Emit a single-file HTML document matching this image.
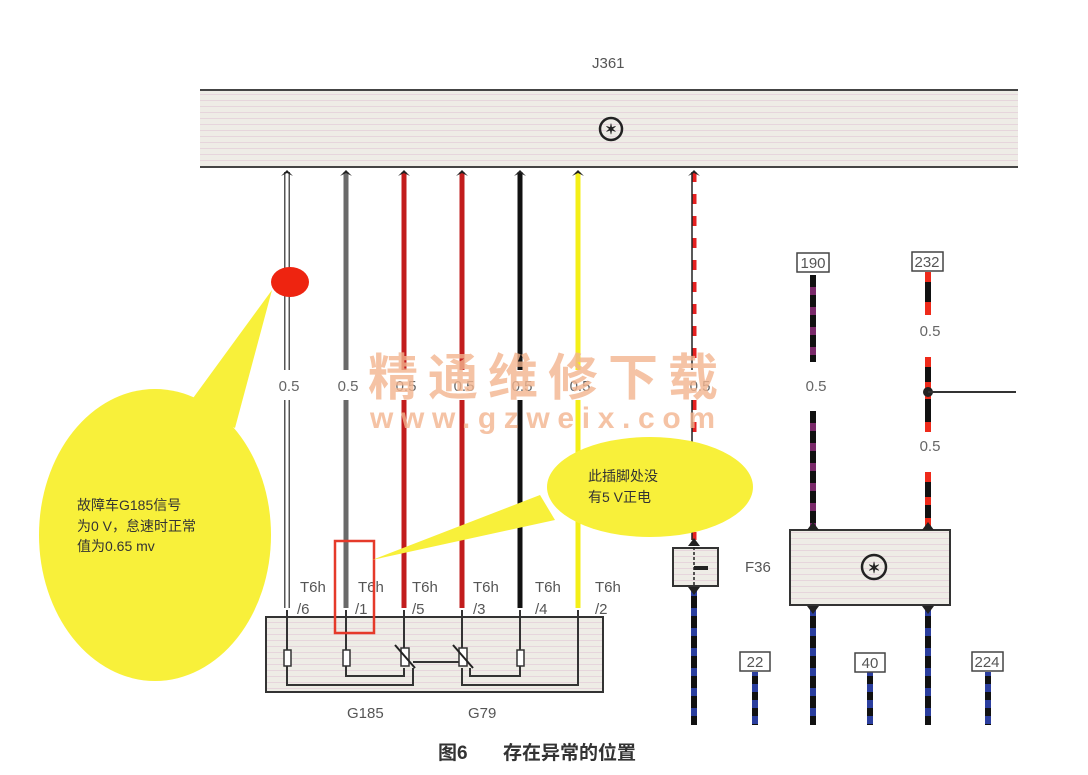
<!DOCTYPE html>
<html><head><meta charset="utf-8"><style>
html,body{margin:0;padding:0;background:#fff;}
svg{display:block;}
text{font-family:"Liberation Sans","Noto Sans CJK SC",sans-serif;}
</style></head><body>
<svg width="1088" height="775" viewBox="0 0 1088 775" xmlns="http://www.w3.org/2000/svg">
<defs>
<pattern id="st" width="8" height="6" patternUnits="userSpaceOnUse"><rect width="8" height="6" fill="#eeece6"/><rect y="4" width="8" height="1" fill="#e6d5dc"/></pattern>
</defs>
<!-- J361 -->
<text x="592" y="68" font-size="15" fill="#555">J361</text>
<rect x="200" y="90" width="818" height="77" fill="url(#st)"/>
<line x1="200" y1="90" x2="1018" y2="90" stroke="#444" stroke-width="2"/>
<line x1="200" y1="167" x2="1018" y2="167" stroke="#444" stroke-width="2"/>
<circle cx="611" cy="129" r="11" fill="none" stroke="#222" stroke-width="2.5"/>
<text x="611" y="134" font-size="14" text-anchor="middle" font-weight="bold" fill="#222">✶</text>

<!-- left wires -->
<g stroke-width="5">
<line x1="287" y1="172" x2="287" y2="370" stroke="#555" stroke-width="6"/><line x1="287" y1="172" x2="287" y2="370" stroke="#fff" stroke-width="3"/>
<line x1="287" y1="400" x2="287" y2="608" stroke="#555" stroke-width="6"/><line x1="287" y1="400" x2="287" y2="608" stroke="#fff" stroke-width="3"/>
<line x1="346" y1="172" x2="346" y2="370" stroke="#6a6a6a"/><line x1="346" y1="400" x2="346" y2="608" stroke="#6a6a6a"/>
<line x1="404" y1="172" x2="404" y2="370" stroke="#c21d1d"/><line x1="404" y1="400" x2="404" y2="608" stroke="#c21d1d"/>
<line x1="462" y1="172" x2="462" y2="370" stroke="#c21d1d"/><line x1="462" y1="400" x2="462" y2="608" stroke="#c21d1d"/>
<line x1="520" y1="172" x2="520" y2="370" stroke="#111"/><line x1="520" y1="400" x2="520" y2="608" stroke="#111"/>
<line x1="578" y1="172" x2="578" y2="370" stroke="#f4ef18"/><line x1="578" y1="400" x2="578" y2="608" stroke="#f4ef18"/>
<line x1="694" y1="172" x2="694" y2="370" stroke="#e52020" stroke-dasharray="10 12"/><line x1="694" y1="400" x2="694" y2="540" stroke="#e52020" stroke-dasharray="10 12"/>
</g>
<line x1="692" y1="172" x2="692" y2="370" stroke="#222" stroke-width="1.5"/><line x1="692" y1="400" x2="692" y2="540" stroke="#222" stroke-width="1.5"/>
<g fill="#222">
<path d="M281 176 L287 170 L293 176 L287 173Z"/><path d="M340 176 L346 170 L352 176 L346 173Z"/><path d="M398 176 L404 170 L410 176 L404 173Z"/><path d="M456 176 L462 170 L468 176 L462 173Z"/><path d="M514 176 L520 170 L526 176 L520 173Z"/><path d="M572 176 L578 170 L584 176 L578 173Z"/><path d="M688 176 L694 170 L700 176 L694 173Z"/>
</g>
<g font-size="15" fill="#666" text-anchor="middle">
<text x="289" y="391">0.5</text><text x="348" y="391">0.5</text><text x="406" y="391">0.5</text><text x="464" y="391">0.5</text><text x="522" y="391">0.5</text><text x="580" y="391">0.5</text><text x="700" y="391">0.5</text>
</g>

<!-- bottom box -->
<rect x="266" y="617" width="337" height="75" fill="url(#st)" stroke="#333" stroke-width="2"/>
<g fill="none" stroke="#333" stroke-width="2">
<path d="M287 610 V685 H413 V668"/>
<path d="M346 610 V676 H404 V668"/>
<path d="M404 610 V648"/>
<path d="M413 662 H462"/>
<path d="M462 610 V648"/>
<path d="M462 668 V685 H578 V610"/>
<path d="M470 668 V676 H520 V610"/>
</g>
<g fill="#fff" stroke="#333" stroke-width="1.5">
<rect x="284" y="650" width="7" height="16"/><rect x="343" y="650" width="7" height="16"/><rect x="401" y="648" width="8" height="18"/><rect x="459" y="648" width="8" height="18"/><rect x="517" y="650" width="7" height="16"/>
</g>
<g stroke="#222" stroke-width="2"><line x1="395" y1="645" x2="415" y2="668"/><line x1="453" y1="645" x2="473" y2="668"/></g>
<g font-size="15" fill="#555">
<text x="300" y="592">T6h</text><text x="358" y="592">T6h</text><text x="412" y="592">T6h</text><text x="473" y="592">T6h</text><text x="535" y="592">T6h</text><text x="595" y="592">T6h</text>
<text x="297" y="614">/6</text><text x="355" y="614">/1</text><text x="412" y="614">/5</text><text x="473" y="614">/3</text><text x="535" y="614">/4</text><text x="595" y="614">/2</text>
<text x="347" y="718">G185</text><text x="468" y="718">G79</text>
</g>
<rect x="335" y="541" width="39" height="92" fill="none" stroke="#e53a2a" stroke-width="2.5"/>

<!-- yellow callouts -->
<path d="M272 290 L188 405 L235 428 Z" fill="#f8f03a"/>
<ellipse cx="155" cy="535" rx="116" ry="146" fill="#f8f03a"/>
<ellipse cx="290" cy="282" rx="19" ry="15" fill="#ee2410"/>
<g font-size="14" fill="#333"><text x="77" y="510">故障车G185信号</text><text x="77" y="531">为0 V，怠速时正常</text><text x="77" y="551">值为0.65 mv</text></g>
<path d="M372 560 L540 495 L555 520 Z" fill="#f8f03a"/>
<ellipse cx="650" cy="487" rx="103" ry="50" fill="#f8f03a"/>
<g font-size="14" fill="#333"><text x="588" y="481">此插脚处没</text><text x="588" y="502">有5 V正电</text></g>

<!-- watermark -->
<text x="368" y="395" font-size="50" fill="#f2b48e" fill-opacity="0.8" font-family="Noto Serif CJK SC,serif" textLength="350" font-weight="bold">精通维修下载</text>
<text x="370" y="428" font-size="30" font-weight="bold" fill="#f2b48e" fill-opacity="0.8" textLength="345">www.gzweix.com</text>

<!-- F36 -->
<rect x="673" y="548" width="45" height="38" fill="url(#st)" stroke="#333" stroke-width="2"/>
<path d="M694 542 V586" stroke="#222" stroke-width="1.5" stroke-dasharray="3 2"/>
<path d="M694 568 L708 568" stroke="#222" stroke-width="4"/>
<text x="745" y="572" font-size="15" fill="#555">F36</text>

<!-- right side -->
<g stroke-width="6">
<line x1="813" y1="275" x2="813" y2="362" stroke="#7a2a6a"/><line x1="813" y1="275" x2="813" y2="362" stroke="#111" stroke-dasharray="12 8"/>
<line x1="813" y1="411" x2="813" y2="527" stroke="#7a2a6a"/><line x1="813" y1="411" x2="813" y2="527" stroke="#111" stroke-dasharray="12 8"/>
<line x1="928" y1="272" x2="928" y2="315" stroke="#ee2a1a"/><line x1="928" y1="282" x2="928" y2="302" stroke="#111"/>
<line x1="928" y1="357" x2="928" y2="432" stroke="#ee2a1a"/><line x1="928" y1="367" x2="928" y2="382" stroke="#111"/><line x1="928" y1="399" x2="928" y2="422" stroke="#111"/>
<line x1="928" y1="472" x2="928" y2="527" stroke="#ee2a1a"/><line x1="928" y1="482" x2="928" y2="497" stroke="#111"/><line x1="928" y1="505" x2="928" y2="518" stroke="#111"/>
</g>
<circle cx="928" cy="392" r="5" fill="#222"/>
<line x1="928" y1="392" x2="1016" y2="392" stroke="#333" stroke-width="2"/>
<g font-size="15" fill="#666" text-anchor="middle"><text x="816" y="391">0.5</text><text x="930" y="336">0.5</text><text x="930" y="451">0.5</text></g>
<rect x="797" y="253" width="32" height="19" fill="#fff" stroke="#444" stroke-width="1.5"/><text x="813" y="268" font-size="15" fill="#555" text-anchor="middle">190</text>
<rect x="912" y="252" width="31" height="19" fill="#fff" stroke="#444" stroke-width="1.5"/><text x="927" y="267" font-size="15" fill="#555" text-anchor="middle">232</text>
<rect x="790" y="530" width="160" height="75" fill="url(#st)" stroke="#333" stroke-width="2"/>
<circle cx="874" cy="567" r="12" fill="none" stroke="#222" stroke-width="2.5"/>
<text x="874" y="573" font-size="15" text-anchor="middle" font-weight="bold" fill="#222">✶</text>
<g stroke-width="6">
<line x1="694" y1="590" x2="694" y2="725" stroke="#2b3e9e"/><line x1="694" y1="596" x2="694" y2="725" stroke="#111" stroke-dasharray="12 8"/>
<line x1="813" y1="610" x2="813" y2="725" stroke="#2b3e9e"/><line x1="813" y1="616" x2="813" y2="725" stroke="#111" stroke-dasharray="12 8"/>
<line x1="928" y1="610" x2="928" y2="725" stroke="#2b3e9e"/><line x1="928" y1="616" x2="928" y2="725" stroke="#111" stroke-dasharray="12 8"/>
<line x1="755" y1="672" x2="755" y2="725" stroke="#2b3e9e"/><line x1="755" y1="676" x2="755" y2="725" stroke="#111" stroke-dasharray="8 8"/>
<line x1="870" y1="672" x2="870" y2="725" stroke="#2b3e9e"/><line x1="870" y1="676" x2="870" y2="725" stroke="#111" stroke-dasharray="8 8"/>
<line x1="988" y1="672" x2="988" y2="725" stroke="#2b3e9e"/><line x1="988" y1="676" x2="988" y2="725" stroke="#111" stroke-dasharray="8 8"/>
</g>
<g fill="#222"><path d="M807 530 L813 522 L819 530Z"/><path d="M922 530 L928 522 L934 530Z"/><path d="M807 606 L813 614 L819 606Z"/><path d="M922 606 L928 614 L934 606Z"/><path d="M688 587 L694 595 L700 587Z"/><path d="M688 546 L694 538 L700 546Z"/></g>
<rect x="740" y="652" width="30" height="19" fill="#fff" stroke="#444" stroke-width="1.5"/><text x="755" y="667" font-size="15" fill="#555" text-anchor="middle">22</text>
<rect x="855" y="653" width="30" height="19" fill="#fff" stroke="#444" stroke-width="1.5"/><text x="870" y="668" font-size="15" fill="#555" text-anchor="middle">40</text>
<rect x="972" y="652" width="31" height="19" fill="#fff" stroke="#444" stroke-width="1.5"/><text x="987" y="667" font-size="15" fill="#555" text-anchor="middle">224</text>

<!-- caption -->
<text x="438" y="759" font-size="19" font-weight="bold" fill="#333">图6</text>
<text x="503" y="759" font-size="19" font-weight="bold" fill="#333">存在异常的位置</text>
</svg>
</body></html>
